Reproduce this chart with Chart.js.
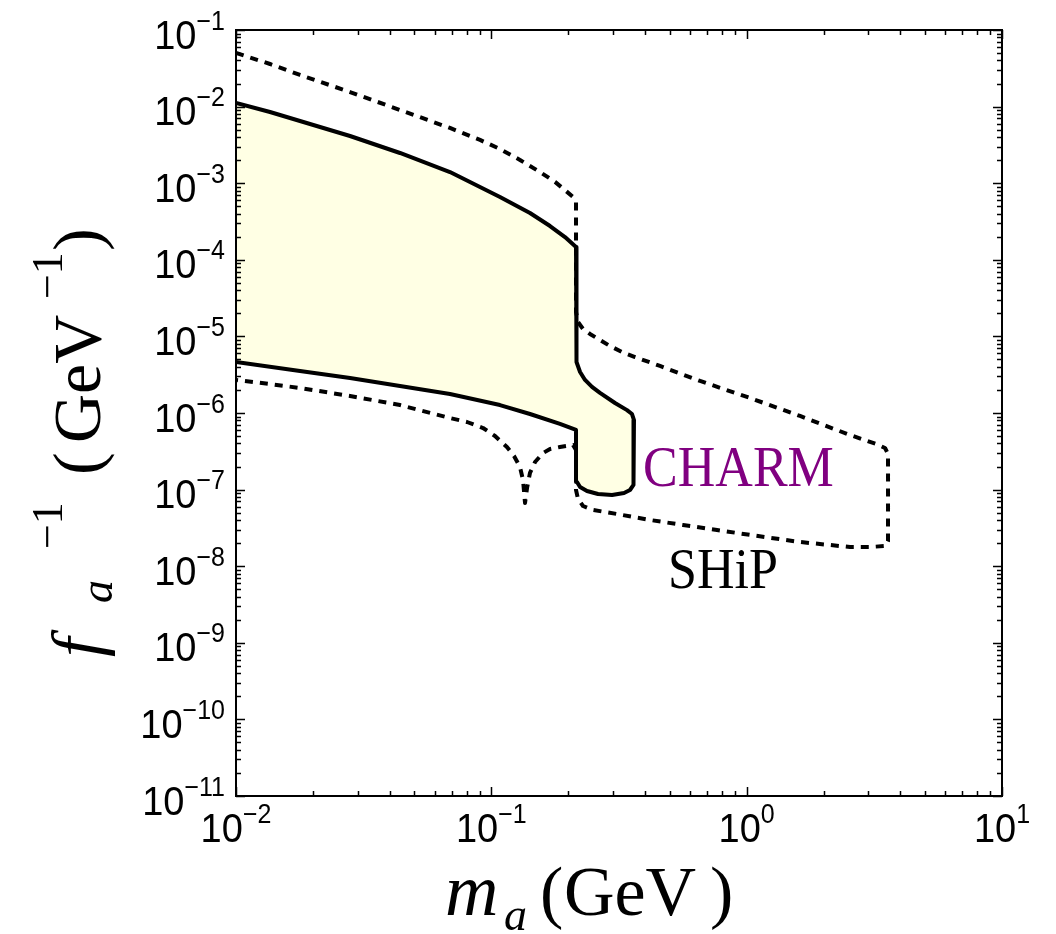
<!DOCTYPE html>
<html>
<head>
<meta charset="utf-8">
<script src="https://cdn.jsdelivr.net/npm/chart.js@4.4.1/dist/chart.umd.min.js"></script>
<style>
    html, body { margin: 0; padding: 0; background: #fff; }
    canvas { display: block; }
</style>
</head>
<body>
<canvas id="chart" width="1056" height="934"></canvas>
<script>
// CHARM 영역 (실선 + 채움), 시계방향
const charmMass = [0.01, 0.01359, 0.01781, 0.02796, 0.04388, 0.06887, 0.1081, 0.1417, 0.1698, 0.1943,
    0.2146, 0.2146, 0.2165, 0.2226, 0.2328, 0.2479, 0.2664, 0.3050, 0.3399, 0.3556,
    0.3620, 0.3620, 0.3588, 0.3492, 0.3309, 0.2970, 0.2617, 0.2369, 0.2226, 0.2165,
    0.2146, 0.2146, 0.1857, 0.1417, 0.1081, 0.06887, 0.04388, 0.02796, 0.01781, 0.01];
const charmCoupling = [1.114e-2, 8.50e-3, 6.49e-3, 4.13e-3, 2.48e-3, 1.40e-3, 6.60e-4, 4.08e-4, 2.76e-4, 1.98e-4,
    1.47e-4, 6.65e-6, 4.63e-6, 3.43e-6, 2.70e-6, 2.19e-6, 1.83e-6, 1.35e-6, 1.09e-6, 9.70e-7,
    8.10e-7, 1.42e-7, 1.15e-7, 9.88e-8, 9.03e-8, 8.50e-8, 8.76e-8, 9.59e-8, 1.08e-7, 1.26e-7,
    1.55e-7, 6.0e-7, 7.19e-7, 9.70e-7, 1.27e-6, 1.77e-6, 2.25e-6, 2.86e-6, 3.53e-6, 4.63e-6];

// SHiP 감도 (점선)
const shipMass = [0.01, 0.01359, 0.01781, 0.02796, 0.04388, 0.06887, 0.0903, 0.1081, 0.1295, 0.1551,
    0.1776, 0.1961, 0.2089, 0.2146, 0.2146, 0.2185, 0.2286, 0.2434, 0.2664, 0.2916,
    0.3249, 0.3654, 0.4576, 0.6568, 1.031, 1.618, 2.539, 3.210, 3.483, 3.578,
    3.578, 3.515, 3.041, 2.539, 1.618, 1.031, 0.7653, 0.5632, 0.4182, 0.3107,
    0.2501, 0.2286, 0.2185, 0.2146, 0.2146, 0.2089, 0.1857, 0.1698, 0.1594, 0.1483,
    0.1417, 0.1380, 0.1355, 0.1331, 0.1295, 0.1227, 0.1151, 0.1034, 0.0928, 0.0803,
    0.06887, 0.04388, 0.02796, 0.01781, 0.01359, 0.01];
const shipCoupling = [0.0501, 0.0360, 0.0259, 0.0155, 0.00903, 5.26e-3, 3.67e-3, 2.80e-3, 2.01e-3, 1.40e-3,
    1.04e-3, 7.91e-4, 6.60e-4, 5.68e-4, 2.08e-5, 1.54e-5, 1.25e-5, 1.075e-5, 8.97e-6, 7.49e-6,
    6.26e-6, 5.38e-6, 4.11e-6, 2.62e-6, 1.57e-6, 9.14e-7, 5.16e-7, 3.94e-7, 3.49e-7, 2.92e-7,
    2.13e-8, 1.84e-8, 1.78e-8, 1.78e-8, 2.07e-8, 2.56e-8, 2.97e-8, 3.45e-8, 4.01e-8, 4.8e-8,
    5.42e-8, 6.11e-8, 7.54e-8, 9.88e-8, 3.29e-7, 3.82e-7, 3.60e-7, 3.39e-7, 3.0e-7, 2.29e-7,
    1.65e-7, 1.05e-7, 6.69e-8, 1.33e-7, 1.97e-7, 2.75e-7, 3.60e-7, 5.01e-7, 6.37e-7, 7.63e-7,
    8.60e-7, 1.27e-6, 1.67e-6, 2.12e-6, 2.39e-6, 2.70e-6];

// 눈금 (10^n)
const xTickExps = [-2, -1, 0, 1];
const yTickExps = [-11, -10, -9, -8, -7, -6, -5, -4, -3, -2, -1];

// 영역 이름
const regionNames = ['CHARM', 'SHiP'];
const regionNameMass = [0.393, 0.492];
const regionNameCoupling = [1.11e-7, 5.19e-9];
const regionNameColors = ['#800080', '#000000'];

const SANS = '"Liberation Sans", Arial, sans-serif';
const SERIF = '"Liberation Serif", "Times New Roman", serif';
const STRETCH = 1.08;

function toPoints(xs, ys) {
    return xs.map((x, i) => ({ x: x, y: ys[i] }));
}

function put(ctx, text, x, y, font, color) {
    ctx.save();
    ctx.font = font;
    ctx.fillStyle = color || '#000';
    ctx.textAlign = 'left';
    ctx.textBaseline = 'alphabetic';
    ctx.translate(x, y);
    ctx.scale(1, STRETCH);
    ctx.fillText(text, 0, 0);
    ctx.restore();
}

function powerLabel(ctx, e, x, base, align) {
    const big = '38px ' + SANS;
    const small = '25px ' + SANS;
    const sup = e < 0 ? '\u2212' + (-e) : String(e);
    ctx.font = big;
    const w1 = ctx.measureText('10').width;
    ctx.font = small;
    const w2 = ctx.measureText(sup).width;
    const x0 = align === 'right' ? x - w1 - w2 : x - (w1 + w2) / 2;
    put(ctx, '10', x0, base, big);
    put(ctx, sup, x0 + w1, base - 19, small);
}

const frame = {
    id: 'frame',
    afterDraw(chart) {
        const ctx = chart.ctx;
        const a = chart.chartArea;
        const xs = chart.scales.x;
        const ys = chart.scales.y;
        ctx.save();

        // 안쪽 눈금 (네 변)
        ctx.strokeStyle = '#000';
        ctx.lineWidth = 1.5;
        ctx.beginPath();
        xTickExps.forEach((e, i) => {
            for (let k = 1; k < 10; k++) {
                if (k > 1 && i === xTickExps.length - 1) break;
                const px = Math.round(xs.getPixelForValue(k * Math.pow(10, e))) + 0.5;
                const len = k === 1 ? 9 : 5;
                ctx.moveTo(px, a.bottom); ctx.lineTo(px, a.bottom - len);
                ctx.moveTo(px, a.top); ctx.lineTo(px, a.top + len);
            }
        });
        yTickExps.forEach((e, i) => {
            for (let k = 1; k < 10; k++) {
                if (k > 1 && i === yTickExps.length - 1) break;
                const py = Math.round(ys.getPixelForValue(k * Math.pow(10, e))) + 0.5;
                const len = k === 1 ? 9 : 5;
                ctx.moveTo(a.left, py); ctx.lineTo(a.left + len, py);
                ctx.moveTo(a.right, py); ctx.lineTo(a.right - len, py);
            }
        });
        ctx.stroke();

        ctx.lineWidth = 2;
        ctx.strokeRect(a.left, a.top, a.right - a.left, a.bottom - a.top);

        // 눈금 라벨
        xTickExps.forEach(e => {
            powerLabel(ctx, e, xs.getPixelForValue(Math.pow(10, e)), a.bottom + 46, 'center');
        });
        yTickExps.forEach(e => {
            powerLabel(ctx, e, a.left - 11, ys.getPixelForValue(Math.pow(10, e)) + 18.5, 'right');
        });

        // 영역 이름
        regionNames.forEach((name, i) => {
            put(ctx, name, xs.getPixelForValue(regionNameMass[i]), ys.getPixelForValue(regionNameCoupling[i]),
                '52px ' + SERIF, regionNameColors[i]);
        });

        // x축 제목
        ctx.fillStyle = '#000';
        ctx.textBaseline = 'alphabetic';
        ctx.font = 'italic 74px ' + SERIF;
        ctx.fillText('m', 445, 915);
        ctx.font = 'italic 46px ' + SERIF;
        ctx.fillText('a', 504, 930);
        ctx.font = '70px ' + SERIF;
        ctx.fillText('(', 540, 915);
        ctx.fillText('GeV', 564, 915);
        ctx.fillText(')', 710, 915);

        // y축 제목
        ctx.save();
        ctx.translate(100, 665);
        ctx.rotate(-Math.PI / 2);
        ctx.font = 'italic 70px ' + SERIF;
        ctx.fillText('f', 8, 0);
        ctx.font = 'italic 46px ' + SERIF;
        ctx.fillText('a', 62, 12);
        ctx.font = '44px ' + SERIF;
        ctx.fillText('\u22121', 116, -38);
        ctx.font = '68px ' + SERIF;
        ctx.fillText('(', 190, 0);
        ctx.fillText('GeV', 222, 0);
        ctx.font = '44px ' + SERIF;
        ctx.fillText('\u22121', 366, -38);
        ctx.font = '68px ' + SERIF;
        ctx.fillText(')', 414, 0);
        ctx.restore();

        ctx.restore();
    }
};

new Chart(document.getElementById('chart'), {
    type: 'scatter',
    data: {
        datasets: [
            {
                label: 'SHiP',
                data: toPoints(shipMass, shipCoupling),
                showLine: true,
                borderColor: '#000',
                borderWidth: 4,
                borderDash: [8, 7],
                borderJoinStyle: 'round',
                pointRadius: 0,
                fill: false,
                tension: 0
            },
            {
                label: 'CHARM',
                data: toPoints(charmMass, charmCoupling),
                showLine: true,
                borderColor: '#000',
                borderWidth: 4,
                borderJoinStyle: 'round',
                backgroundColor: 'rgb(255, 255, 228)',
                pointRadius: 0,
                fill: 'shape',
                tension: 0
            }
        ]
    },
    options: {
        responsive: false,
        animation: false,
        devicePixelRatio: 1,
        layout: { padding: { left: 236, top: 30, right: 54, bottom: 138 } },
        plugins: { legend: { display: false }, tooltip: { enabled: false } },
        scales: {
            x: { type: 'logarithmic', min: 0.01, max: 10, display: false },
            y: { type: 'logarithmic', min: 1e-11, max: 1e-1, display: false }
        }
    },
    plugins: [frame]
});
</script>
</body>
</html>
